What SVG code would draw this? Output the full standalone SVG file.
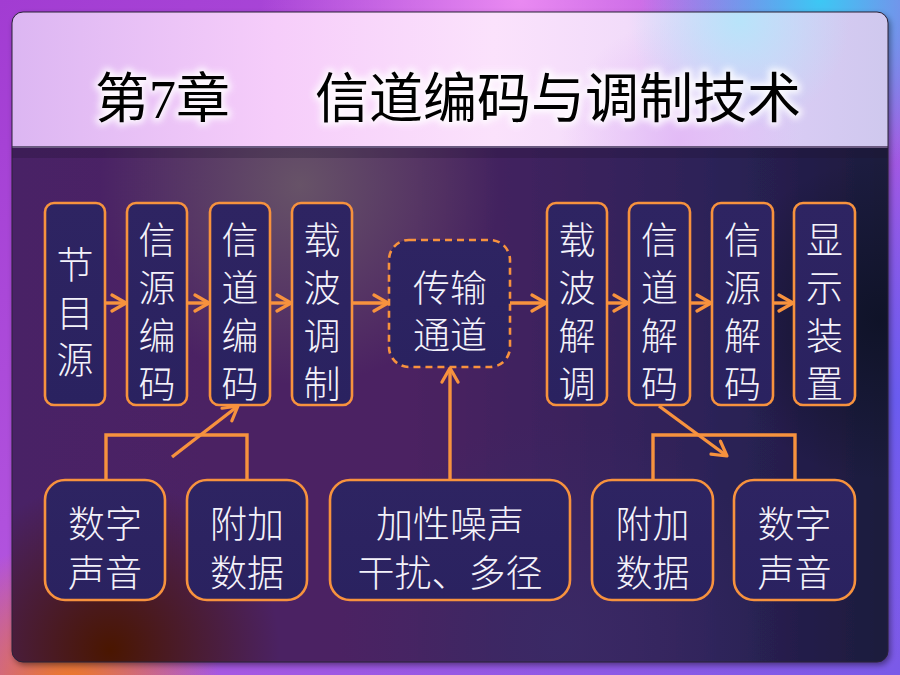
<svg xmlns="http://www.w3.org/2000/svg" width="900" height="675" viewBox="0 0 900 675">
<defs>
  <linearGradient id="bgBase" x1="0" y1="0" x2="1" y2="1">
    <stop offset="0" stop-color="#a23cd2"/>
    <stop offset="0.5" stop-color="#b457e0"/>
    <stop offset="1" stop-color="#7a5ae8"/>
  </linearGradient>
  <radialGradient id="bgCyan" cx="820" cy="0" r="180" gradientUnits="userSpaceOnUse">
    <stop offset="0" stop-color="#3cc8f4" stop-opacity="1"/>
    <stop offset="1" stop-color="#3cc8f4" stop-opacity="0"/>
  </radialGradient>
  <radialGradient id="bgPink" cx="520" cy="0" r="260" gradientUnits="userSpaceOnUse">
    <stop offset="0" stop-color="#f090f4" stop-opacity="0.9"/>
    <stop offset="1" stop-color="#f090f4" stop-opacity="0"/>
  </radialGradient>
  <radialGradient id="bgOrange" cx="70" cy="690" r="150" gradientUnits="userSpaceOnUse">
    <stop offset="0" stop-color="#f07a1c" stop-opacity="1"/>
    <stop offset="1" stop-color="#f07a1c" stop-opacity="0"/>
  </radialGradient>
  <radialGradient id="bgViolet" cx="900" cy="400" r="260" gradientUnits="userSpaceOnUse">
    <stop offset="0" stop-color="#6a5cf0" stop-opacity="1"/>
    <stop offset="1" stop-color="#6a5cf0" stop-opacity="0"/>
  </radialGradient>

  <linearGradient id="panelBase" x1="0" y1="0" x2="1" y2="0">
    <stop offset="0" stop-color="#4a2166"/>
    <stop offset="0.45" stop-color="#4c2462"/>
    <stop offset="0.8" stop-color="#2c2258"/>
    <stop offset="1" stop-color="#1c1a3c"/>
  </linearGradient>
  <radialGradient id="panelGray" cx="300" cy="185" r="200" gradientUnits="userSpaceOnUse">
    <stop offset="0" stop-color="#6a5868" stop-opacity="0.9"/>
    <stop offset="1" stop-color="#6a5868" stop-opacity="0"/>
  </radialGradient>
  <radialGradient id="panelBrown" cx="110" cy="650" r="170" gradientUnits="userSpaceOnUse">
    <stop offset="0" stop-color="#4a1600" stop-opacity="1"/>
    <stop offset="1" stop-color="#4a1600" stop-opacity="0"/>
  </radialGradient>
  <radialGradient id="panelDark" cx="880" cy="320" r="160" gradientUnits="userSpaceOnUse">
    <stop offset="0" stop-color="#0e1226" stop-opacity="0.9"/>
    <stop offset="1" stop-color="#0e1226" stop-opacity="0"/>
  </radialGradient>
  <radialGradient id="panelMag" cx="560" cy="640" r="220" gradientUnits="userSpaceOnUse">
    <stop offset="0" stop-color="#3a2a66" stop-opacity="0.9"/>
    <stop offset="1" stop-color="#3a2a66" stop-opacity="0"/>
  </radialGradient>

  <linearGradient id="band" x1="0" y1="0" x2="1" y2="0">
    <stop offset="0" stop-color="#dcb6f2"/>
    <stop offset="0.3" stop-color="#f6cdfa"/>
    <stop offset="0.55" stop-color="#fbe2fc"/>
    <stop offset="0.7" stop-color="#f2dcfa"/>
    <stop offset="0.85" stop-color="#dccdf6"/>
    <stop offset="1" stop-color="#cfc8ee"/>
  </linearGradient>
  <radialGradient id="bandCyan" cx="740" cy="20" r="110" gradientUnits="userSpaceOnUse">
    <stop offset="0" stop-color="#b8e4fa" stop-opacity="1"/>
    <stop offset="1" stop-color="#b8e4fa" stop-opacity="0"/>
  </radialGradient>
  <radialGradient id="bandPink" cx="680" cy="140" r="120" gradientUnits="userSpaceOnUse">
    <stop offset="0" stop-color="#e2b8f6" stop-opacity="0.9"/>
    <stop offset="1" stop-color="#e2b8f6" stop-opacity="0"/>
  </radialGradient>

  <linearGradient id="nodeFill" x1="0" y1="0" x2="0" y2="1">
    <stop offset="0" stop-color="#2e2462"/>
    <stop offset="1" stop-color="#2a2260"/>
  </linearGradient>

  <clipPath id="panelClip">
    <rect x="12" y="12" width="876" height="650" rx="11"/>
  </clipPath>

  <filter id="shadow" x="-5%" y="-5%" width="110%" height="110%">
    <feGaussianBlur in="SourceAlpha" stdDeviation="3"/>
    <feOffset dx="2" dy="3" result="b"/>
    <feFlood flood-color="#000" flood-opacity="0.45"/>
    <feComposite in2="b" operator="in"/>
    <feMerge><feMergeNode/><feMergeNode in="SourceGraphic"/></feMerge>
  </filter>
  <filter id="glow" x="-10%" y="-30%" width="120%" height="160%">
    <feGaussianBlur stdDeviation="3"/>
  </filter>

  <marker id="arrow" markerUnits="userSpaceOnUse" markerWidth="22" markerHeight="22" refX="17" refY="10" orient="auto">
    <path d="M3,2 L17,10 L3,18" fill="none" stroke="#f7923e" stroke-width="3.2" stroke-linecap="round" stroke-linejoin="round"/>
  </marker>

  <style>
    .node rect { fill: url(#nodeFill); stroke: #f7923e; stroke-width: 2.6; }
    .dashed rect { stroke-dasharray: 7 5; }
    .lbl { font-family: "Liberation Sans", "Noto Sans CJK SC", sans-serif; font-size: 37px; fill: #f4f2fa; text-anchor: middle; font-weight: 300; }
    .conn path { fill: none; stroke: #f7923e; stroke-width: 3.4; }
    .title { font-family: "Liberation Serif", "Noto Sans CJK SC", serif; font-size: 54px; }
  </style>
</defs>

<!-- backdrop -->
<rect x="0" y="0" width="900" height="675" fill="url(#bgBase)"/>
<rect x="0" y="0" width="900" height="675" fill="url(#bgPink)"/>
<rect x="0" y="0" width="900" height="675" fill="url(#bgCyan)"/>
<rect x="0" y="0" width="900" height="675" fill="url(#bgViolet)"/>
<rect x="0" y="0" width="900" height="675" fill="url(#bgOrange)"/>

<!-- panel -->
<g filter="url(#shadow)">
  <rect x="12" y="12" width="876" height="650" rx="11" fill="url(#panelBase)"/>
</g>
<g clip-path="url(#panelClip)">
  <rect x="12" y="12" width="876" height="650" fill="url(#panelGray)"/>
  <rect x="12" y="12" width="876" height="650" fill="url(#panelMag)"/>
  <rect x="12" y="12" width="876" height="650" fill="url(#panelDark)"/>
  <rect x="12" y="12" width="876" height="650" fill="url(#panelBrown)"/>
  <rect x="12" y="12" width="876" height="135" fill="url(#band)"/>
  <rect x="12" y="12" width="876" height="135" fill="url(#bandPink)"/>
  <rect x="12" y="12" width="876" height="135" fill="url(#bandCyan)"/>
  <rect x="12" y="146" width="876" height="2" fill="#6a5a80"/>
  <rect x="12" y="148" width="876" height="10" fill="#1a0e2a" opacity="0.25"/>
</g>
<rect x="12" y="12" width="876" height="650" rx="11" fill="none" stroke="#2a2238" stroke-width="1"/>

<!-- title -->
<g id="title">
  <text class="title" x="95" y="118" fill="#ffffff" stroke="#ffffff" stroke-width="7" stroke-linejoin="round" filter="url(#glow)" opacity="0.85">第7章<tspan x="315">信道编码与调制技术</tspan></text>
  <text class="title" x="95" y="118" fill="#000000">第7章<tspan x="315">信道编码与调制技术</tspan></text>
</g>

<!-- connectors -->
<g id="connectors" class="conn">
  <path d="M105,303 H126" marker-end="url(#arrow)"/>
  <path d="M187,303 H209" marker-end="url(#arrow)"/>
  <path d="M270,303 H291" marker-end="url(#arrow)"/>
  <path d="M352,303 H388" marker-end="url(#arrow)"/>
  <path d="M510,303 H546" marker-end="url(#arrow)"/>
  <path d="M607,303 H628" marker-end="url(#arrow)"/>
  <path d="M690,303 H711" marker-end="url(#arrow)"/>
  <path d="M773,303 H793" marker-end="url(#arrow)"/>
  <path d="M106,480 V435 H247 V480"/>
  <path d="M172,457 L238,406" marker-end="url(#arrow)"/>
  <path d="M450,480 V368" marker-end="url(#arrow)"/>
  <path d="M653,480 V435 H795 V480"/>
  <path d="M659,406 L727,456" marker-end="url(#arrow)"/>
</g>

<!-- top row nodes -->
<g id="node-source" class="node">
  <rect x="45" y="203" width="60" height="202" rx="9"/>
  <text class="lbl" x="75" y="279">节<tspan x="75" dy="47.5">目</tspan><tspan x="75" dy="47.5">源</tspan></text>
</g>
<g id="node-src-enc" class="node">
  <rect x="127" y="203" width="60" height="202" rx="9"/>
  <text class="lbl" x="157" y="254">信<tspan x="157" dy="48">源</tspan><tspan x="157" dy="48">编</tspan><tspan x="157" dy="48">码</tspan></text>
</g>
<g id="node-ch-enc" class="node">
  <rect x="210" y="203" width="60" height="202" rx="9"/>
  <text class="lbl" x="240" y="254">信<tspan x="240" dy="48">道</tspan><tspan x="240" dy="48">编</tspan><tspan x="240" dy="48">码</tspan></text>
</g>
<g id="node-mod" class="node">
  <rect x="292" y="203" width="60" height="202" rx="9"/>
  <text class="lbl" x="322" y="254">载<tspan x="322" dy="48">波</tspan><tspan x="322" dy="48">调</tspan><tspan x="322" dy="48">制</tspan></text>
</g>
<g id="node-channel" class="node dashed">
  <rect x="389" y="240" width="121" height="127" rx="20"/>
  <text class="lbl" x="450" y="302">传输<tspan x="450" dy="47">通道</tspan></text>
</g>
<g id="node-demod" class="node">
  <rect x="547" y="203" width="60" height="202" rx="9"/>
  <text class="lbl" x="577" y="254">载<tspan x="577" dy="48">波</tspan><tspan x="577" dy="48">解</tspan><tspan x="577" dy="48">调</tspan></text>
</g>
<g id="node-ch-dec" class="node">
  <rect x="629" y="203" width="61" height="202" rx="9"/>
  <text class="lbl" x="659.5" y="254">信<tspan x="659.5" dy="48">道</tspan><tspan x="659.5" dy="48">解</tspan><tspan x="659.5" dy="48">码</tspan></text>
</g>
<g id="node-src-dec" class="node">
  <rect x="712" y="203" width="61" height="202" rx="9"/>
  <text class="lbl" x="742.5" y="254">信<tspan x="742.5" dy="48">源</tspan><tspan x="742.5" dy="48">解</tspan><tspan x="742.5" dy="48">码</tspan></text>
</g>
<g id="node-display" class="node">
  <rect x="794" y="203" width="61" height="202" rx="9"/>
  <text class="lbl" x="824.5" y="254">显<tspan x="824.5" dy="48">示</tspan><tspan x="824.5" dy="48">装</tspan><tspan x="824.5" dy="48">置</tspan></text>
</g>

<!-- bottom row nodes -->
<g id="node-audio-in" class="node">
  <rect x="45" y="480" width="120" height="120" rx="20"/>
  <text class="lbl" x="105" y="538">数字<tspan x="105" dy="49">声音</tspan></text>
</g>
<g id="node-data-in" class="node">
  <rect x="187" y="480" width="120" height="120" rx="20"/>
  <text class="lbl" x="247" y="538">附加<tspan x="247" dy="49">数据</tspan></text>
</g>
<g id="node-noise" class="node">
  <rect x="330" y="480" width="240" height="120" rx="20"/>
  <text class="lbl" x="450" y="538">加性噪声<tspan x="450" dy="49">干扰、多径</tspan></text>
</g>
<g id="node-data-out" class="node">
  <rect x="592" y="480" width="121" height="120" rx="20"/>
  <text class="lbl" x="652.5" y="538">附加<tspan x="652.5" dy="49">数据</tspan></text>
</g>
<g id="node-audio-out" class="node">
  <rect x="734" y="480" width="121" height="120" rx="20"/>
  <text class="lbl" x="794.5" y="538">数字<tspan x="794.5" dy="49">声音</tspan></text>
</g>
</svg>
